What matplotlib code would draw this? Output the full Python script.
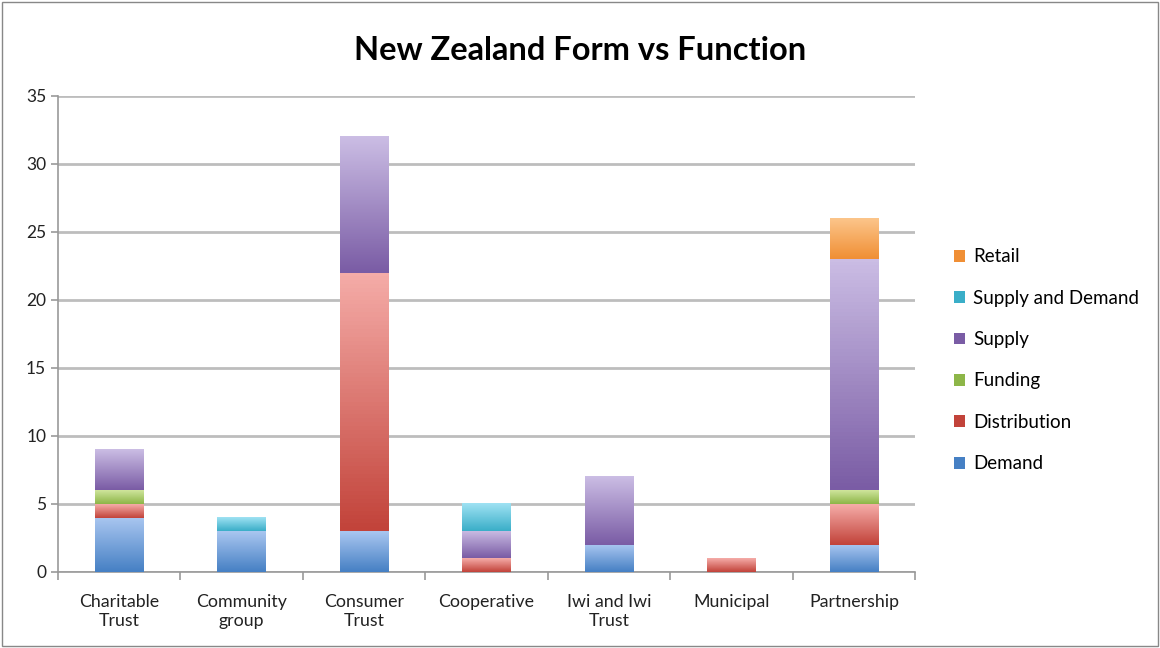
import numpy as np
import matplotlib.pyplot as plt
from matplotlib.colors import LinearSegmentedColormap
from matplotlib.patches import Rectangle, Patch

plt.rcParams['font.family'] = ['Lato', 'DejaVu Sans']

categories = ['Charitable\nTrust', 'Community\ngroup', 'Consumer\nTrust', 'Cooperative',
              'Iwi and Iwi\nTrust', 'Municipal', 'Partnership']
series = ['Demand', 'Distribution', 'Funding', 'Supply', 'Supply and Demand', 'Retail']
demand = [4, 3, 3, 0, 2, 0, 2]
distribution = [1, 0, 19, 1, 0, 1, 3]
funding = [1, 0, 0, 0, 0, 0, 1]
supply = [3, 0, 10, 2, 5, 0, 17]
supply_demand = [0, 1, 0, 2, 0, 0, 0]
retail = [0, 0, 0, 0, 0, 0, 3]
values = [demand, distribution, funding, supply, supply_demand, retail]

# (top, bottom) colours of each gradient fill
shades = {
    'Demand': ('#a9c6f0', '#4680c4'),
    'Distribution': ('#f5aca8', '#c2433a'),
    'Funding': ('#cfe59c', '#8db648'),
    'Supply': ('#cbbde4', '#7a5ca5'),
    'Supply and Demand': ('#9fe2f3', '#3aaec8'),
    'Retail': ('#fcc58a', '#f08f35'),
}

fig = plt.figure(figsize=(11.6, 6.48), dpi=100)
ax = fig.add_axes([0.05, 0.1173, 0.739, 0.7347])

x = np.arange(len(categories))
width = 0.4
grad = np.linspace(0, 1, 64).reshape(-1, 1)
bottom = np.zeros(len(categories))
for name, vals in zip(series, values):
    cmap = LinearSegmentedColormap.from_list(name, [shades[name][1], shades[name][0]])
    for i, v in enumerate(vals):
        if v <= 0:
            continue
        ax.imshow(grad, cmap=cmap, origin='lower', aspect='auto', zorder=3,
                  extent=(x[i] - width / 2, x[i] + width / 2, bottom[i], bottom[i] + v))
    bottom += np.array(vals)

ax.set_xlim(-0.5, len(categories) - 0.5)
ax.set_ylim(0, 35)
ax.set_yticks(range(0, 36, 5))
ax.set_xticks(x)
ax.set_xticklabels(categories, fontsize=12.8, color='#222222')
ax.set_xticks(np.arange(-0.5, len(categories)), minor=True)
ax.tick_params(axis='x', which='major', length=0, pad=16)
ax.tick_params(axis='x', which='minor', length=6, color='#999999', width=1.2)
ax.tick_params(axis='y', labelsize=12.5, colors='#222222', length=5, color='#999999', width=1.2)
ax.yaxis.grid(True, color='#bdbdbd', linewidth=2)
ax.set_axisbelow(True)
for side in ['top', 'right']:
    ax.spines[side].set_visible(False)
for side in ['left', 'bottom']:
    ax.spines[side].set_color('#999999')
    ax.spines[side].set_linewidth(1.2)

fig.suptitle('New Zealand Form vs Function', x=0.5, y=0.945, fontsize=23.5, fontweight='bold')

handles = [Patch(facecolor=shades[s][1], edgecolor='none') for s in series][::-1]
fig.legend(handles, series[::-1], loc='center left', bbox_to_anchor=(0.808, 0.444),
           frameon=False, fontsize=13.5, handlelength=0.6, handleheight=0.6,
           labelspacing=1.3, handletextpad=0.4)

fig.patches.append(Rectangle((0.002, 0.003), 0.996, 0.994, transform=fig.transFigure,
                             fill=False, edgecolor='#888888', linewidth=1))

fig.savefig('out.png', dpi=100)
